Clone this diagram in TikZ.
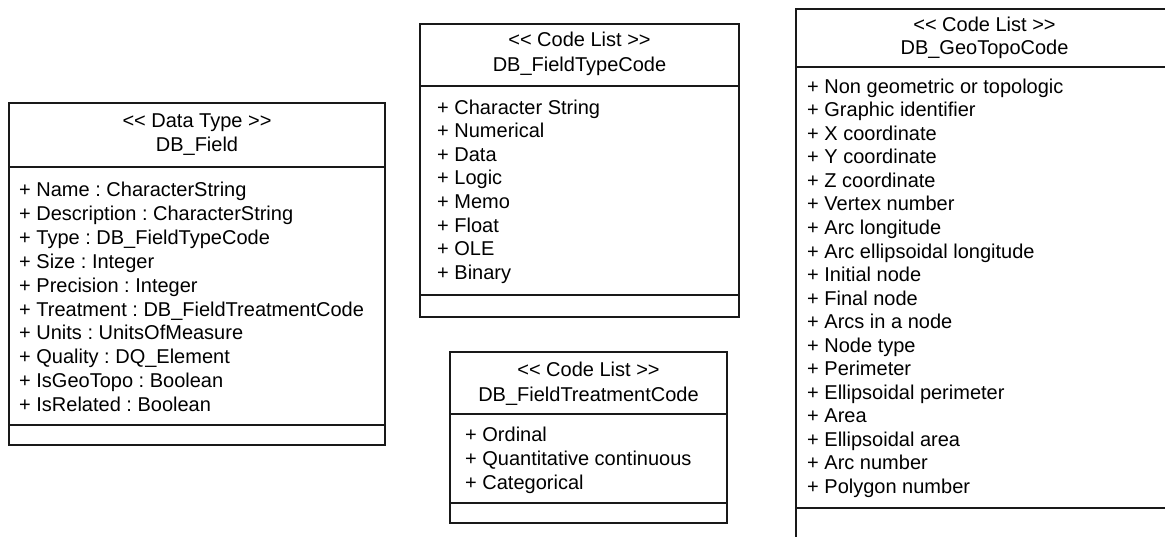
\documentclass[tikz,border=0pt]{standalone}
\usepackage{fontspec}
\setmainfont{Liberation Sans}
\frenchspacing
\begin{document}
\begin{tikzpicture}[x=1pt,y=-1pt,
  box/.style={draw=black!90, line width=1.2pt},
  txt/.style={inner sep=0pt, font=\fontsize{20}{24}\selectfont\frenchspacing},
  itemtxt/.style={txt, anchor=base west},
  headtxt/.style={txt, anchor=base}]
\useasboundingbox (0,0) rectangle (1165,536);
\clip (0,0) rectangle (1165,536);
% ---- DB_Field
\draw[box] (9,103) rectangle (385,445);
\draw[box] (9,167) -- (385,167);
\draw[box] (9,425) -- (385,425);
\node[headtxt] (f0) at (197,127) {<{}< Data Type >{}>};
\node[headtxt] (f00) at (197,151) {DB\_Field};
\foreach \t [count=\i] in {Name : CharacterString, Description : CharacterString, Type : DB\_FieldTypeCode, Size : Integer, Precision : Integer, Treatment : DB\_FieldTreatmentCode, Units : UnitsOfMeasure, Quality : DQ\_Element, IsGeoTopo : Boolean, IsRelated : Boolean}
  \node[itemtxt] (f\i) at (19,{196.5+(\i-1)*23.9}) {+ \t};
% ---- DB_FieldTypeCode
\draw[box] (420,24) rectangle (739,317);
\draw[box] (420,86) -- (739,86);
\draw[box] (420,295) -- (739,295);
\node[headtxt] (t0) at (579.5,46) {<{}< Code List >{}>};
\node[headtxt] (t00) at (579.5,71) {DB\_FieldTypeCode};
\foreach \t [count=\i] in {Character String, Numerical, Data, Logic, Memo, Float, OLE, Binary}
  \node[itemtxt] (t\i) at (437,{114+(\i-1)*23.6}) {+ \t};
% ---- DB_FieldTreatmentCode
\draw[box] (450,352) rectangle (727,523);
\draw[box] (450,414) -- (727,414);
\draw[box] (450,503) -- (727,503);
\node[headtxt] (r0) at (588.5,376.7) {<{}< Code List >{}>};
\node[headtxt] (r00) at (588.5,401.7) {DB\_FieldTreatmentCode};
\foreach \t [count=\i] in {Ordinal, Quantitative continuous, Categorical}
  \node[itemtxt] (r\i) at (465,{441.5+(\i-1)*23.9}) {+ \t};
% ---- DB_GeoTopoCode
\draw[box] (796,9) rectangle (1173,545);
\draw[box] (796,67) -- (1173,67);
\draw[box] (796,508) -- (1173,508);
\node[headtxt] (g0) at (984.5,31) {<{}< Code List >{}>};
\node[headtxt] (g00) at (984.5,54) {DB\_GeoTopoCode};
\foreach \t [count=\i] in {Non geometric or topologic, Graphic identifier, X coordinate, Y coordinate, Z coordinate, Vertex number, Arc longitude, Arc ellipsoidal longitude, Initial node, Final node, Arcs in a node, Node type, Perimeter, Ellipsoidal perimeter, Area, Ellipsoidal area, Arc number, Polygon number}
  \node[itemtxt] (g\i) at (807,{93.3+(\i-1)*23.53}) {+ \t};
\end{tikzpicture}
\end{document}
